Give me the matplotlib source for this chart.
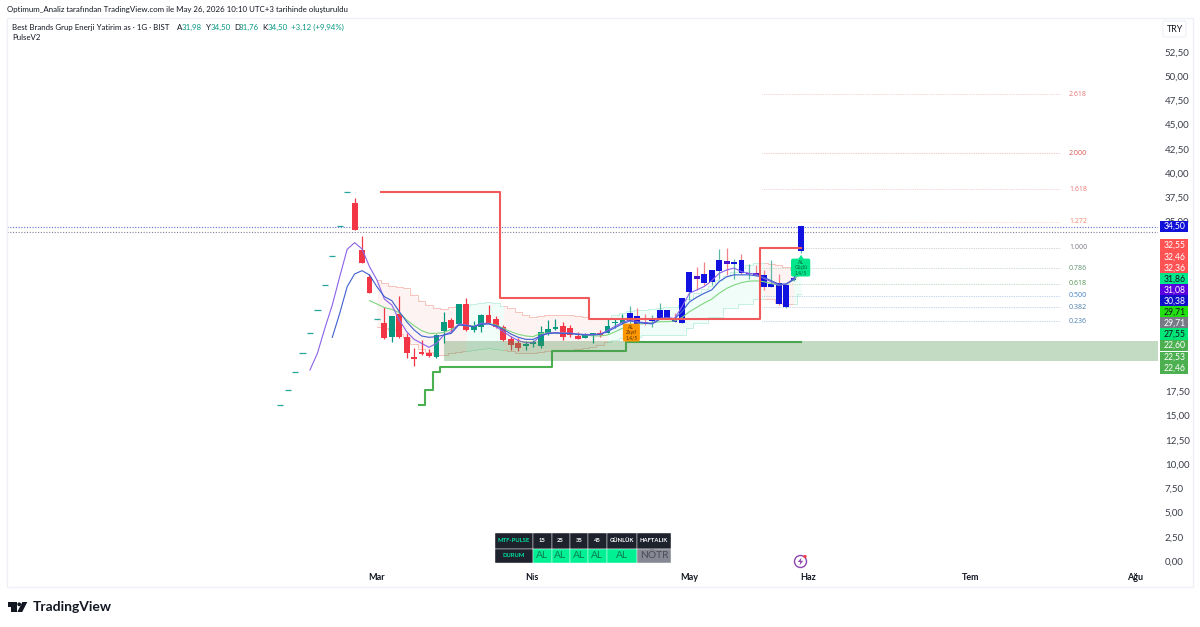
import numpy as np
import matplotlib
matplotlib.use('Agg')
import matplotlib.pyplot as plt
from matplotlib.patches import Rectangle, Polygon, FancyBboxPatch, Circle

plt.rcParams['font.family'] = ['Lato', 'DejaVu Sans']

# gunluk mumlar, ilk 10 tanesi tek fiyatli (tire gibi gorunuyor)
first_bar = -10
opens = [16.05, 17.6, 19.5, 21.4, 23.5, 25.9, 28.5, 31.4, 34.5, 38.0,
         36.9, 32.06, 29.25, 24.9, 24.57, 23.12, 25.46, 23.12, 21.06, 21.51, 21.44, 21.0,
         23.71, 24.81, 24.43, 26.49, 23.81, 24.15, 25.36, 24.9, 24.15, 22.85, 22.47, 22.2, 22.4, 22.2,
         23.5, 23.95, 24.2, 23.98, 23.23, 23.02, 23.3, 23.5, 23.54, 24.5, 24.56, 24.74,
         25.29, 24.63, 24.74, 25.1, 25.88, 24.93, 24.57, 27.77, 29.35, 29.56, 28.76, 29.89,
         30.93, 30.6, 31.03, 29.55, 29.65, 29.47, 28.28, 28.7, 26.15, 28.96, 31.98]
highs = [16.05, 17.6, 19.5, 21.4, 23.5, 25.9, 28.5, 31.4, 34.5, 38.0,
         37.4, 33.5, 29.6, 24.9, 26.15, 25.3, 27.32, 23.5, 21.92, 22.78, 21.85, 23.4,
         25.64, 25.1, 26.5, 27.08, 24.7, 25.5, 26.39, 25.3, 24.3, 23.2, 23.0, 22.7, 22.8, 24.2,
         24.85, 25.0, 24.67, 24.3, 23.6, 23.5, 23.55, 23.8, 24.9, 25.1, 25.5, 26.29,
         26.05, 25.46, 25.39, 26.63, 25.9, 25.53, 27.1, 29.8, 30.34, 30.86, 30.0, 32.13,
         32.3, 31.1, 31.65, 30.6, 30.5, 30.0, 31.03, 29.55, 28.45, 29.2, 34.5]
lows = [16.05, 17.6, 19.5, 21.4, 23.5, 25.9, 28.5, 31.4, 34.5, 38.0,
        34.1, 30.69, 27.66, 24.9, 22.9, 22.61, 22.95, 20.96, 20.1, 21.2, 21.0, 20.95,
        22.44, 23.6, 24.3, 23.7, 23.64, 23.57, 24.4, 24.0, 22.7, 21.75, 21.7, 21.75, 22.1, 22.0,
        23.3, 23.8, 22.8, 23.1, 22.9, 22.95, 22.5, 23.1, 23.5, 24.05, 24.4, 24.33,
        24.33, 24.33, 24.17, 25.05, 25.07, 24.6, 24.5, 26.9, 27.94, 28.45, 28.45, 29.1,
        29.48, 29.1, 29.6, 29.1, 29.4, 27.94, 28.2, 26.4, 26.1, 28.9, 31.76]
closes = [16.05, 17.6, 19.5, 21.4, 23.5, 25.9, 28.5, 31.4, 34.5, 38.0,
          34.1, 30.69, 27.66, 24.9, 22.96, 25.26, 23.12, 21.41, 20.82, 21.31, 21.13, 23.3,
          24.6, 23.99, 26.49, 23.81, 24.23, 25.36, 24.57, 24.15, 22.78, 22.27, 21.92, 22.25, 22.47, 23.57,
          23.92, 24.05, 23.06, 23.3, 22.92, 23.37, 23.4, 23.3, 24.26, 24.56, 24.84, 25.53,
          24.4, 24.43, 24.95, 25.88, 25.07, 24.63, 27.08, 29.76, 29.1, 28.69, 29.96, 31.03,
          30.65, 30.65, 29.72, 29.72, 29.45, 28.28, 28.55, 26.46, 28.41, 29.18, 34.5]
purple_bars = [39, 46, 50, 53, 54]

# ortalamalar: (baslangic bar, degerler)
fast_start = -6
fast_ma = [19.69, 21.41, 23.99, 26.39, 29.31, 32.13, 32.82, 32.17, 30.35, 28.97, 27.01, 26.39, 24.85,
           23.64, 22.85, 22.44, 22.03, 22.44, 23.3, 23.64, 24.43, 24.33, 24.16, 24.5, 24.5, 24.16, 23.64,
           23.13, 22.72, 22.51, 22.51, 23.25, 23.5, 23.55, 23.5, 23.5, 23.4, 23.35, 23.35, 23.4, 23.75, 24.2,
           24.6, 24.85, 24.67, 24.57, 24.5, 25.0, 25.1, 25.0, 26.2, 27.6, 27.95, 28.3, 28.9, 29.66, 30.0,
           30.2, 29.83, 29.66, 29.55, 29.13, 28.8, 28.45, 28.55, 29.1, 31.08]
mid_start = -3
mid_ma = [23.06, 25.53, 28.28, 29.59, 29.93, 29.49, 28.28, 27.25, 26.84, 25.71, 24.67, 23.82, 23.2, 23.06,
          23.13, 23.3, 23.47, 24.33, 24.26, 24.16, 24.4, 24.43, 24.26, 23.88, 23.4, 23.06, 22.85, 22.85,
          23.2, 23.45, 23.5, 23.45, 23.45, 23.35, 23.3, 23.3, 23.35, 23.65, 24.05, 24.45, 24.75, 24.6, 24.5,
          24.45, 24.9, 25.05, 24.95, 25.7, 26.7, 27.2, 27.6, 27.95, 28.8, 29.3, 29.5, 29.5, 29.5, 29.4,
          29.25, 28.9, 28.55, 28.55, 29.0, 30.38]
slow_start = 2
slow_ma = [26.84, 26.5, 26.12, 25.95, 25.6, 24.85, 24.26, 23.75, 23.47, 23.47, 23.57, 23.88, 24.33, 24.26,
           24.23, 24.43, 24.5, 24.33, 23.99, 23.64, 23.37, 23.2, 23.13, 23.47, 23.5, 23.5, 23.5, 23.45, 23.4,
           23.3, 23.2, 23.2, 23.3, 23.63, 23.99, 24.2, 24.4, 24.5, 24.57, 24.67, 24.67, 24.74, 25.1, 25.7,
           26.15, 26.6, 27.0, 27.6, 28.1, 28.45, 28.7, 28.85, 28.88, 28.8, 28.6, 28.45, 28.55, 28.96, 29.71]

# bant ust/alt
band_start = 3
band_top = [28.97, 28.63, 28.39, 28.28, 28.11, 27.42, 26.84, 26.39, 26.05, 25.95, 26.22, 26.29, 26.29, 26.5,
            26.63, 26.67, 26.56, 26.29, 26.05, 25.64, 25.36, 25.16, 25.26, 25.36, 25.4, 25.4, 25.35, 25.3,
            25.2, 25.1, 25.0, 25.0, 25.4, 25.6, 25.8, 25.9, 25.9, 26.0, 26.1, 26.2, 26.2, 26.4, 27.0, 27.6,
            28.0, 28.4, 29.0, 29.4, 29.8, 30.2, 30.5, 30.7, 30.7, 30.6, 30.5, 30.3, 30.0, 29.71]
band_low = [24.09, 24.0, 23.82, 23.4, 23.0, 22.4, 21.9, 21.58, 21.24, 21.24, 21.41, 21.5, 21.6, 21.75,
            21.9, 21.95, 21.9, 21.75, 21.7, 21.41, 21.4, 21.45, 21.5, 21.6, 21.7, 21.75, 21.8, 21.9,
            22.0, 22.1, 22.3, 22.6, 22.8, 23.0, 23.1, 23.1, 23.3, 23.3, 23.3, 23.3, 23.3, 23.3, 24.0, 24.5,
            24.5, 25.2, 25.2, 26.05, 26.05, 26.5, 26.5, 27.0, 27.0, 27.0, 26.6, 26.5, 26.5, 27.55]
red_segments = [(3, 15), (20, 34), (55, 59)]
green_segments = [(15, 20), (34, 55), (59, 60)]

# kademeli cizgiler
stop_red_x = [3.5, 19.5, 31.5, 54.5, 60]
stop_red_y = [38.0, 27.14, 25.0, 32.3, 32.3]
stop_green_x = [8.6, 9.5, 10.5, 11.5, 26.5, 36.5, 60]
stop_green_y = [16.05, 17.6, 19.5, 20.0, 21.65, 22.55, 22.55]

zone_top, zone_bottom, zone_start = 22.68, 20.6, 12

fib_labels = ['2.618', '2.000', '1.618', '1.272', '1.000', '0.786', '0.618', '0.500', '0.382', '0.236']
fib_prices = [48.14, 42.06, 38.35, 34.95, 32.27, 30.2, 28.56, 27.33, 26.18, 24.74]
fib_colors = ['#e57373', '#d9534f', '#e57373', '#ef8a6a', '#787b86', '#5f8f6f', '#4f8f4f', '#3f7fc0', '#4a7fb0', '#4a7fb0']

# 20-32,50 arasi etiketler sagdaki fiyat kutularinin altinda kaliyor
price_ticks = [0, 2.5, 5, 7.5, 10, 12.5, 15, 17.5, 35, 37.5, 40, 42.5, 45, 47.5, 50, 52.5]
month_names = ['Mar', 'Nis', 'May', 'Haz', 'Tem', 'Ağu']
month_bars = [3.0, 23.85, 44.95, 60.95, 82.85, 104.9]

tag_values = ['34,50', '32,55', '32,46', '32,36', '31,86', '31,08', '30,38', '29,71', '29,71', '27,55', '22,60', '22,53', '22,46']
tag_prices = [34.47, 32.58, 31.37, 30.2, 29.07, 27.94, 26.8, 25.67, 24.54, 23.4, 22.2, 21.0, 19.9]
tag_colors = ['#1010d8', '#ff5252', '#ff5252', '#ff5252', '#00e68a', '#5a00e0', '#1010c8', '#22e010', '#787b86', '#00e676', '#4caf50', '#4caf50', '#4caf50']
tag_text = ['white', 'white', 'white', 'white', '#131722', 'white', 'white', '#131722', 'white', '#131722', 'white', 'white', 'white']

table_heads = ['MTF-PULSE', '15', '25', '35', '45', 'GÜNLÜK', 'HAFTALIK']
table_vals = ['DURUM', 'AL', 'AL', 'AL', 'AL', 'AL', 'NÖTR']
table_edges = [495, 533, 551.5, 569.5, 588, 606.5, 637, 671]

fig = plt.figure(figsize=(12, 6.27), dpi=100, facecolor='white')

# pikselden axes konumu
W, H = 1200, 627
ax = fig.add_axes([7 / W, 1 - 587 / H, (1158 - 7) / W, (587 - 18) / H])
ax.set_xlim((7 - 354.6) / 7.44, (1158 - 354.6) / 7.44)
ax.set_ylim((561 - 587) / 9.7, (561 - 18) / 9.7)
for s in ax.spines.values():
    s.set_visible(False)

bars = np.arange(first_bar, first_bar + len(opens))

# bant dolgusu
band_x = np.arange(band_start, band_start + len(band_top))
band_top = np.array(band_top)
band_low = np.array(band_low)
for a, b in red_segments:
    m = (band_x >= a) & (band_x <= b)
    ax.fill_between(band_x[m], band_low[m], band_top[m], color='#f7a59b', alpha=0.13, lw=0, zorder=1)
    ax.plot(band_x[m], band_top[m], color='#f5c4bc', lw=0.7, zorder=1.5, drawstyle='steps-mid')
    ax.plot(band_x[m], band_low[m], color='#f5c4bc', lw=0.7, zorder=1.5, drawstyle='steps-mid')
for a, b in green_segments:
    m = (band_x >= a) & (band_x <= b)
    ax.fill_between(band_x[m], band_low[m], band_top[m], color='#8ff0d0', alpha=0.12, lw=0, zorder=1)
    ax.plot(band_x[m], band_top[m], color='#c4f2e0', lw=0.7, zorder=1.5, drawstyle='steps-mid')
    ax.plot(band_x[m], band_low[m], color='#c4f2e0', lw=0.7, zorder=1.5, drawstyle='steps-mid')

# mumlar
for i, b in enumerate(bars):
    o, h, l, c = opens[i], highs[i], lows[i], closes[i]
    if h == l:
        ax.plot([b - 0.42, b + 0.42], [o, o], color='#26a69a', lw=0.9, zorder=3, solid_capstyle='butt')
        continue
    base = '#089981' if c >= o else '#f23645'
    body = base
    if b >= 37:
        body = '#4a14c8' if b in purple_bars else '#1212e0'
    wick = {'#089981': '#5fb8a4', '#f23645': '#f2818a'}[base] if b >= 37 else base
    ax.plot([b, b], [l, h], color=wick, lw=0.9, zorder=3, solid_capstyle='butt')
    ax.add_patch(Rectangle((b - 0.39, min(o, c)), 0.78, max(abs(c - o), 0.18), fc=body, ec='none', zorder=4))

ax.plot(np.arange(slow_start, slow_start + len(slow_ma)), slow_ma, color='#7fd67f', lw=0.8, zorder=5)
ax.plot(np.arange(fast_start, fast_start + len(fast_ma)), fast_ma, color='#8a62e6', lw=0.8, zorder=5)
ax.plot(np.arange(mid_start, mid_start + len(mid_ma)), mid_ma, color='#3f5fd0', lw=0.8, zorder=5)

ax.step(stop_red_x, stop_red_y, where='post', color='#f05a5a', lw=1.5, zorder=6)
ax.step(stop_green_x, stop_green_y, where='post', color='#4caf50', lw=1.5, zorder=6)

# yesil bolge
ax.add_patch(Rectangle((zone_start, zone_bottom), 200, zone_top - zone_bottom, fc='#4b8f4b', alpha=0.33, ec='none', zorder=7))

# ust uste noktali iki seviye
ax.axhline(34.47, color='#5a6fd0', lw=0.8, ls=(0, (1, 1.5)), zorder=2)
ax.axhline(33.95, color='#80809a', lw=0.8, ls=(0, (1, 1.5)), zorder=2)

# fib seviyeleri
fib_end = (1060 - 354.6) / 7.44
fib_text_x = (1069 - 354.6) / 7.44
for lab, p, col in zip(fib_labels, fib_prices, fib_colors):
    ax.plot([54.75, fib_end], [p, p], color=col, lw=0.5, ls=(0, (1, 1.5)), alpha=0.6, zorder=2)
    ax.text(fib_text_x, p, lab, color=col, fontsize=5, family='Open Sans', va='center', ha='left', zorder=8)

# AL etiketleri
ax.add_patch(FancyBboxPatch((36.2, 22.75), 2.0, 1.6, boxstyle='round,pad=0.05,rounding_size=0.15',
                            fc='#ff9800', ec='#ff9800', mutation_aspect=1, zorder=9))
ax.text(37.2, 23.55, 'AL\nZayıf\n1.4/5', color='#5a3000', fontsize=3.6, ha='center', va='center', linespacing=1.1, zorder=10)
ax.add_patch(FancyBboxPatch((58.8, 29.45), 2.3, 1.6, boxstyle='round,pad=0.05,rounding_size=0.15',
                            fc='#00e68a', ec='#00e68a', mutation_aspect=1, zorder=9))
ax.text(60, 30.25, 'AL\nGüçlü\n1.4/5', color='#05603c', fontsize=3.6, ha='center', va='center', linespacing=1.1, zorder=10)
ax.add_patch(Polygon([[59.6, 31.1], [60.4, 31.1], [60, 31.55]], fc='#00e68a', ec='none', zorder=9))

# eksenler
ax.yaxis.tick_right()
ax.set_yticks(price_ticks)
ax.set_yticklabels([f'{v:.2f}'.replace('.', ',') for v in price_ticks], fontsize=7, color='#3a3e4a')
ax.tick_params(axis='y', length=0, pad=5)
ax.set_xticks(month_bars)
ax.set_xticklabels(month_names, fontsize=6.5, color='#131722', fontweight='bold')
ax.tick_params(axis='x', length=0, pad=-10)
ax.patch.set_alpha(0)

# sag fiyat etiketleri
tf = ax.get_yaxis_transform()
for v, p, col, tc in zip(tag_values, tag_prices, tag_colors, tag_text):
    ax.add_patch(Rectangle((1.002, p - 0.58), 0.0243, 1.16, fc=col, ec='none', transform=tf, clip_on=False, zorder=12))
    ax.text(1.0141, p, v, color=tc, fontsize=6.2, ha='center', va='center', transform=tf, clip_on=False, zorder=13)

# piksel koordinatli ust katman: cerceve, basliklar, tablo, logo
top = fig.add_axes([0, 0, 1, 1], zorder=5)
top.set_xlim(0, W)
top.set_ylim(H, 0)
top.axis('off')
top.patch.set_alpha(0)
top.add_patch(Rectangle((7, 18), 1186, 569, fc='none', ec='#eef0f5', lw=1))
top.add_patch(FancyBboxPatch((1163, 21), 23, 16, boxstyle='round,pad=0,rounding_size=2', fc='white', ec='#eef0f5', lw=0.8))
top.text(1174.5, 29.5, 'TRY', fontsize=6.4, color='#131722', ha='center', va='center')

top.text(7, 9.5, 'Optimum_Analiz tarafından TradingView.com ile May 26, 2026 10:10 UTC+3 tarihinde oluşturuldu',
         fontsize=5.65, color='#131722', va='center')
top.text(12, 27.5, 'Best Brands Grup Enerji Yatirim as · 1G · BIST', fontsize=5.65, color='#131722', va='center')
x_head = 177
for lab, val in [('A', '31,98'), ('Y', '34,50'), ('D', '31,76'), ('K', '34,50')]:
    top.text(x_head, 27.5, lab, fontsize=5.65, color='#131722', va='center')
    top.text(x_head + 5, 27.5, val, fontsize=5.65, color='#089981', va='center')
    x_head += 28.5
top.text(291, 27.5, '+3,12 (+9,94%)', fontsize=5.65, color='#089981', va='center')
top.text(12, 38, 'PulseV2', fontsize=5.65, color='#131722', va='center')

# MTF tablosu
for i in range(len(table_heads)):
    x0, x1 = table_edges[i], table_edges[i + 1]
    top.add_patch(Rectangle((x0, 533), x1 - x0, 15.5, fc='#1e222d', ec='white', lw=0.3))
    head_col = '#00e6a0' if i == 0 else 'white'
    top.text((x0 + x1) / 2, 541, table_heads[i], fontsize=4.2, fontweight='bold', color=head_col, ha='center', va='center')
    if i == 0:
        fc, tc, fs, w = '#1e222d', '#00e6a0', 4.2, 'bold'
    elif table_vals[i] == 'NÖTR':
        fc, tc, fs, w = '#868993', '#4a4d57', 7.4, 'normal'
    else:
        fc, tc, fs, w = '#00f094', '#0a7a52', 7.4, 'normal'
    top.add_patch(Rectangle((x0, 548.5), x1 - x0, 14, fc=fc, ec='white', lw=0.3))
    top.text((x0 + x1) / 2, 555.5, table_vals[i], fontsize=fs, fontweight=w, color=tc, ha='center', va='center')

# simsek simgesi
top.add_patch(Circle((800.5, 561.5), 6, fc='white', ec='#8e44ad', lw=1))
top.add_patch(Polygon([[801.5, 557.5], [797.8, 562], [800.3, 562], [799.5, 565.5], [803.2, 560.8], [800.8, 560.8]], fc='#8e44ad', ec='none'))
top.add_patch(Circle((805, 556.5), 1.6, fc='#f23645', ec='none'))

# TradingView logosu
top.add_patch(Polygon([[7.5, 602], [16.7, 602], [16.7, 612], [11, 612], [11, 606.5], [7.5, 606.5]], fc='#131722', ec='none'))
top.add_patch(Circle((19.2, 604.3), 1.9, fc='#131722', ec='none'))
top.add_patch(Polygon([[22.3, 602], [27.3, 602], [22.2, 612], [17.3, 612]], fc='#131722', ec='none'))
top.text(32.5, 607, 'TradingView', fontsize=10, fontweight='bold', color='#131722', va='center', ha='left')

fig.savefig('out.png', dpi=100)
